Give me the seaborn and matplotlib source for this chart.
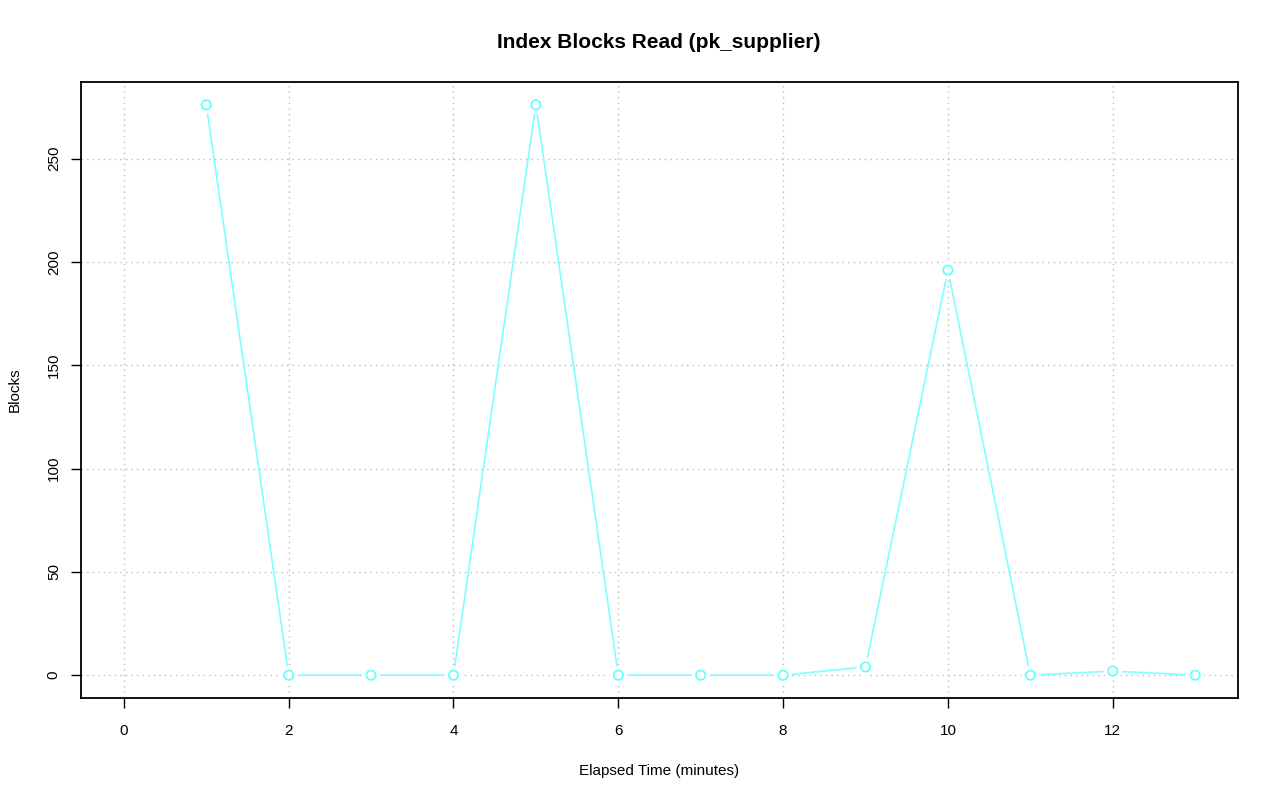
import numpy as np
import pandas as pd
import seaborn as sns
import matplotlib.pyplot as plt

# values
minutes = list(range(1, 14))
blocks = [276, 0, 0, 0, 276, 0, 0, 0, 4, 196, 0, 2, 0]

x_ticks = [0, 2, 4, 6, 8, 10, 12]
y_ticks = [0, 50, 100, 150, 200, 250]

df = pd.DataFrame({'Elapsed': minutes, 'Blocks': blocks})

sns.set_style('white')
plt.rcParams['font.family'] = ['Liberation Sans', 'DejaVu Sans']
plt.rcParams['text.color'] = 'black'
plt.rcParams['axes.labelcolor'] = 'black'

fig = plt.figure(figsize=(12.8, 8.01), dpi=100)
ax = fig.add_axes([81 / 1280, 1 - 698 / 801, (1238 - 81) / 1280, (698 - 82) / 801])

# grid (R style dotted lines at tick positions)
for t in x_ticks:
    ax.axvline(t, color='#bbbbbb', lw=1, ls=(0, (1, 3)), zorder=0)
for t in y_ticks:
    ax.axhline(t, color='#bbbbbb', lw=1, ls=(0, (1, 3)), zorder=0)

# type="b": line with gaps around points
sns.lineplot(data=df, x='Elapsed', y='Blocks', color='#7fffff', lw=1.2, ax=ax, zorder=2)
sns.scatterplot(data=df, x='Elapsed', y='Blocks', s=170, color='white',
                edgecolor='none', ax=ax, zorder=3)
sns.scatterplot(data=df, x='Elapsed', y='Blocks', s=45, facecolor='none',
                edgecolor='#66ffff', linewidth=1.3, ax=ax, zorder=4)

ax.set_xlim(-0.52, 13.52)
ax.set_ylim(-11.04, 287.04)
ax.set_xticks(x_ticks)
ax.set_yticks(y_ticks)
ax.set_yticklabels([str(t) for t in y_ticks], rotation=90, va='center')
ax.tick_params(axis='both', direction='out', length=7.5, width=1, labelsize=11,
               colors='black', bottom=True, left=True)
ax.tick_params(axis='x', pad=11)
ax.tick_params(axis='y', pad=7)
for s in ax.spines.values():
    s.set_color('black')
    s.set_linewidth(1.3)

ax.set_xlabel('Elapsed Time (minutes)', fontsize=11, labelpad=19)
ax.set_ylabel('Blocks', fontsize=11, labelpad=18)
fig.text(659 / 1280, 1 - 42 / 801, 'Index Blocks Read (pk_supplier)',
         ha='center', va='center', fontsize=15, fontweight='bold')

fig.savefig('out.png', dpi=100)
